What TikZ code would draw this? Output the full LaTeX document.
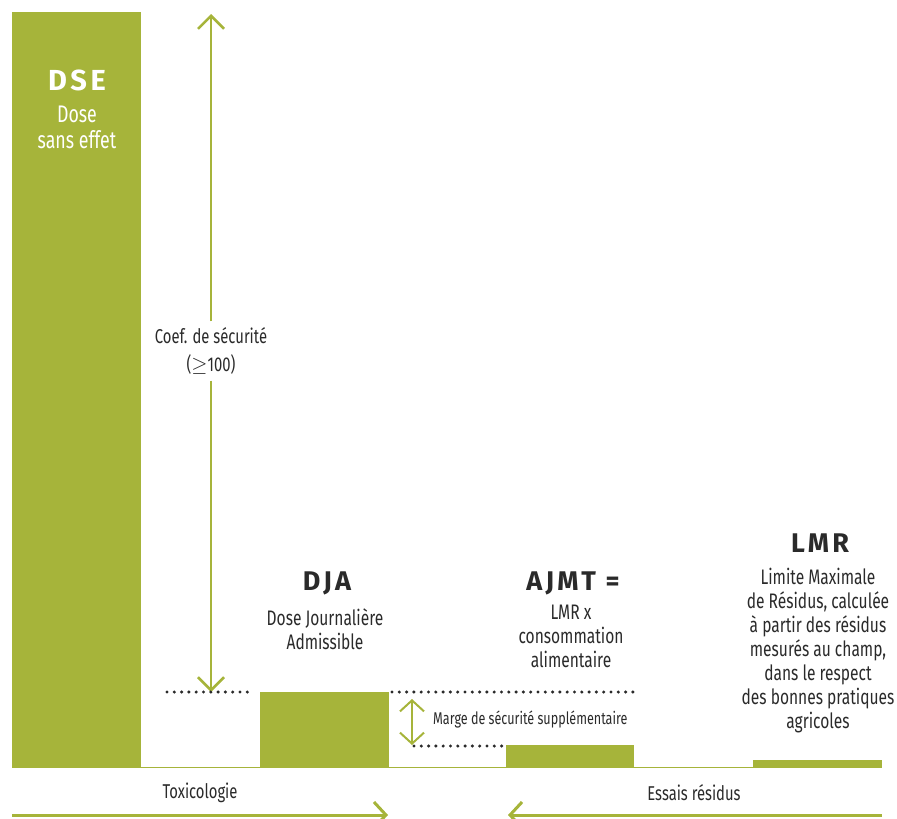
\documentclass[tikz,border=0pt]{standalone}
\usepackage{fontspec}
\setmainfont{Fira Sans}[FakeStretch=0.74]
\newfontfamily\headfont{Fira Sans}[LetterSpace=12]
\usetikzlibrary{arrows.meta}
\definecolor{leaf}{HTML}{A6B43A}
\definecolor{ink}{HTML}{2A2A2A}
\tikzset{
  bar/.style={fill=leaf, draw=none, inner sep=0pt, anchor=north west},
  title/.style={font=\headfont\bfseries\fontsize{27}{30}\selectfont, text=ink, inner sep=0pt},
  body/.style={font=\fontsize{21}{24}\selectfont, text=ink, align=center, inner sep=0pt},
  greenarrow/.style={draw=leaf, line width=2.5pt,
    arrows={Straight Barb[length=13pt,width=26pt]-Straight Barb[length=13pt,width=26pt]}},
  dots/.style={draw=ink, line width=3.4pt, line cap=round, dash pattern=on 0pt off 7.3pt}
}
\begin{document}
\begin{tikzpicture}[x=1pt,y=-1pt]
\useasboundingbox (0,0) rectangle (897,819);

% bars
\node[bar, minimum width=129pt, minimum height=756pt] (dse) at (12,12) {};
\node[bar, minimum width=129pt, minimum height=76pt] (dja) at (260,692) {};
\node[bar, minimum width=128pt, minimum height=23pt] (ajmt) at (506,745) {};
\node[bar, minimum width=129pt, minimum height=8pt] (lmr) at (753,760) {};

% ground line
\coordinate (g0) at (12,767.5);
\coordinate (g1) at (882,767.5);
\draw[leaf, line width=1.6pt] (g0) -- (g1);

% DSE label
\node[title, text=white, font=\headfont\bfseries\fontsize{29}{32}\selectfont] (dset) at (77,80) {DSE};
\node[body, text=white, font=\fontsize{24}{26}\selectfont, anchor=north] (dsed) at (77,106) {Dose\\sans effet};

% safety coefficient arrow
\node[body, font=\fontsize{20}{28}\selectfont] (coef) at (211,351) {Coef. de sécurité\\($\geq$100)};
\coordinate (top) at (211,14);
\coordinate (djalevel) at (211,692);
\draw[greenarrow, arrows={-Straight Barb[length=13pt,width=26pt]}] ([yshift=6pt]coef.north) -- (top);
\draw[greenarrow, arrows={-Straight Barb[length=13pt,width=26pt]}] ([yshift=-6pt]coef.south) -- (djalevel);

% dotted levels
\coordinate (d1a) at (167,692);
\coordinate (d1b) at (252,692);
\coordinate (d2a) at (392,692);
\coordinate (d2b) at (634,692);
\coordinate (d3a) at (414,746);
\coordinate (d3b) at (503,746);
\draw[dots] (d1a) -- (d1b);
\draw[dots] (d2a) -- (d2b);
\draw[dots] (d3a) -- (d3b);

% extra margin arrow
\coordinate (m0) at (412,699);
\coordinate (m1) at (412,745);
\draw[greenarrow, line width=2pt,
  arrows={Straight Barb[length=11pt,width=24pt]-Straight Barb[length=11pt,width=24pt]}] (m0) -- (m1);
\node[body, font=\fontsize{17}{18}\selectfont, anchor=west] (marge) at (433,719) {Marge de sécurité supplémentaire};

% DJA
\node[title] (djat) at (327,583) {DJA};
\node[body, anchor=north] (djad) at (325,608) {Dose Journalière\\Admissible};

% AJMT
\node[title] (ajmtt) at (573,583) {AJMT =};
\node[body, anchor=north] (ajmtd) at (571,605) {LMR x\\consommation\\alimentaire};

% LMR
\node[title] (lmrt) at (820,543) {LMR};
\node[body, anchor=north] (lmrd) at (818,568) {Limite Maximale\\de Résidus, calculée\\à partir des résidus\\mesurés au champ,\\dans le respect\\des bonnes pratiques\\agricoles};

% domains
\node[body, font=\fontsize{20}{22}\selectfont] (tox) at (200,793) {Toxicologie};
\node[body, font=\fontsize{20}{22}\selectfont] (ess) at (694,793) {Essais résidus};
\coordinate (t0) at (12,815);
\coordinate (t1) at (388,815);
\coordinate (e0) at (882,815);
\coordinate (e1) at (508,815);
\draw[greenarrow, line width=3pt, arrows={-Straight Barb[length=12pt,width=26pt]}] (t0) -- (t1);
\draw[greenarrow, line width=3pt, arrows={-Straight Barb[length=12pt,width=26pt]}] (e0) -- (e1);
\end{tikzpicture}
\end{document}
